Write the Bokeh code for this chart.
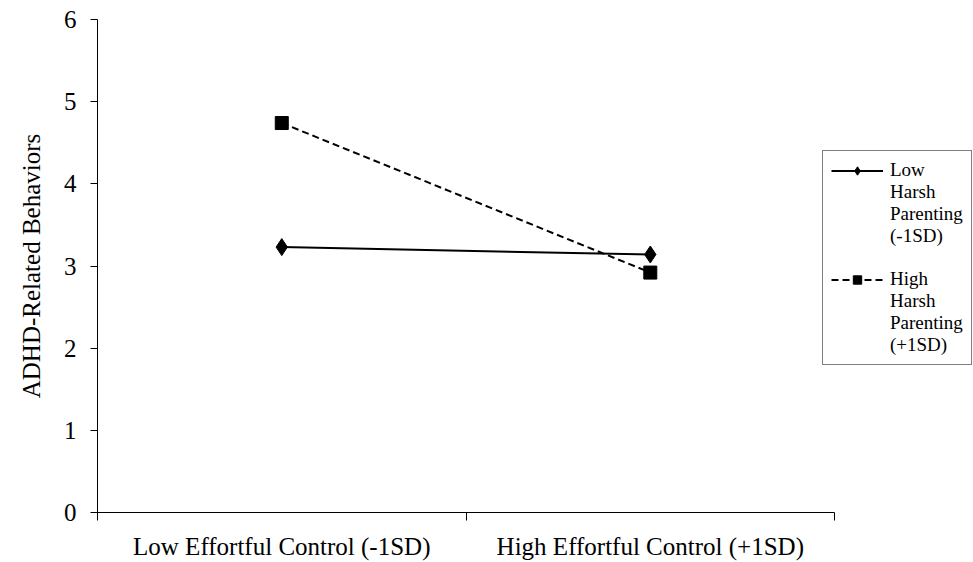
from bokeh.plotting import figure
from bokeh.models import Range1d, FixedTicker, Legend, LegendItem
from bokeh.embed import file_html
from bokeh.resources import INLINE

categories = ["Low Effortful Control (-1SD)", "High Effortful Control (+1SD)"]
low_harsh = [3.23, 3.14]
high_harsh = [4.74, 2.92]
y_ticks = [0, 1, 2, 3, 4, 5, 6]
series_labels = [["Low", "Harsh", "Parenting", "(-1SD)"], ["High", "Harsh", "Parenting", "(+1SD)"]]

FONT = "Liberation Serif"
n = len(categories)
xs = [i + 0.5 for i in range(n)]

# frame spans to the right edge so the legend is not clipped; axis line bounded to data span
p = figure(width=973, height=562, output_backend="svg", toolbar_location=None,
           x_range=Range1d(0, n * 1.1885), y_range=Range1d(0, 6),
           min_border_left=97, min_border_right=0, min_border_top=19, min_border_bottom=10)
p.outline_line_color = None
p.xgrid.visible = False
p.ygrid.visible = False

r1 = p.line(xs, low_harsh, line_color="black", line_width=2)
r1m = p.scatter(xs, low_harsh, marker="diamond", size=17, fill_color="black", line_color="black")
r2 = p.line(xs, high_harsh, line_color="black", line_width=2, line_dash="7 4")
r2m = p.scatter(xs, high_harsh, marker="square", size=13, fill_color="black", line_color="black")
# invisible renderer used only for the extra legend text lines
blank = p.line([], [], line_alpha=0)

xa = p.xaxis[0]
xa.bounds = (0, n)
xa.ticker = FixedTicker(ticks=xs, minor_ticks=list(range(n + 1)))
xa.major_label_overrides = {x: c for x, c in zip(xs, categories)}
xa.major_tick_out = 0
xa.major_tick_in = 0
xa.minor_tick_out = 8
xa.minor_tick_in = 0
xa.major_label_standoff = 12
xa.major_label_text_font = FONT
xa.major_label_text_font_size = "25px"
xa.major_label_text_color = "black"
xa.axis_line_color = "black"
xa.minor_tick_line_color = "black"

ya = p.yaxis[0]
ya.ticker = FixedTicker(ticks=y_ticks)
ya.major_tick_out = 7
ya.major_tick_in = 0
ya.minor_tick_line_color = None
ya.major_label_standoff = 14
ya.major_label_text_font = FONT
ya.major_label_text_font_size = "25px"
ya.major_label_text_color = "black"
ya.axis_line_color = "black"
ya.major_tick_line_color = "black"
ya.axis_label = "ADHD-Related Behaviors"
ya.axis_label_text_font = FONT
ya.axis_label_text_font_size = "25px"
ya.axis_label_text_font_style = "normal"
ya.axis_label_text_color = "black"
ya.axis_label_standoff = 16

items = []
for k, (lines, rends) in enumerate(zip(series_labels, [[r1, r1m], [r2, r2m]])):
    if k > 0:
        items.append(LegendItem(label=" ", renderers=[blank]))
    items.append(LegendItem(label=lines[0], renderers=rends))
    for ln in lines[1:]:
        items.append(LegendItem(label=ln, renderers=[blank]))

legend = Legend(items=items, location=(725, 147))
legend.border_line_color = "black"
legend.border_line_width = 1
legend.background_fill_alpha = 1
legend.label_text_font = "'Liberation Serif', serif"
legend.label_text_font_size = "19px"
legend.label_text_color = "black"
legend.label_height = 20
legend.glyph_width = 52
legend.glyph_height = 21
legend.label_standoff = 7
legend.spacing = 0
legend.padding = 8
legend.margin = 0
p.add_layout(legend, "center")

open("out.html", "w").write(file_html(p, INLINE))
